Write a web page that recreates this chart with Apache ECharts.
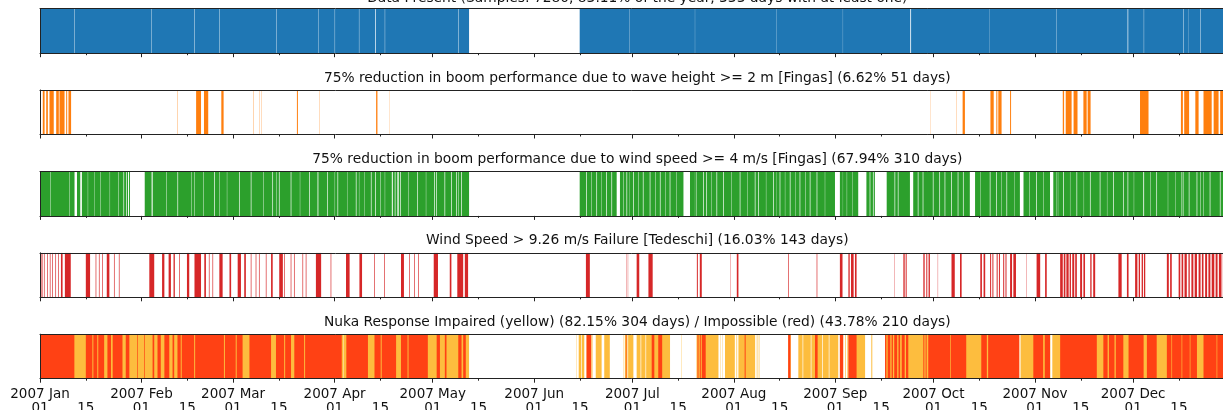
<!DOCTYPE html>
<html>
<head>
<meta charset="utf-8">
<script src="https://cdn.jsdelivr.net/npm/echarts@6/dist/echarts.min.js"></script>
<style>
  html, body { margin: 0; padding: 0; background: #fff; }
  #chart { width: 1223px; height: 410px; }
</style>
</head>
<body>
<div id="chart"></div>
<script>
// All spans are [startDay, endDay] in days since 2007-01-01 00:00 UTC.

const YEAR = 2007;
const monthNames = ['Jan', 'Feb', 'Mar', 'Apr', 'May', 'Jun', 'Jul', 'Aug', 'Sep', 'Oct', 'Nov', 'Dec'];
const dayOfMonthMajor = '01';
const dayOfMonthMinor = '15';

const panelTitles = [
  'Data Present (Samples: 7280, 83.11% of the year, 333 days with at least one)',
  '75% reduction in boom performance due to wave height >= 2 m [Fingas] (6.62% 51 days)',
  '75% reduction in boom performance due to wind speed >= 4 m/s [Fingas] (67.94% 310 days)',
  'Wind Speed > 9.26 m/s Failure [Tedeschi] (16.03% 143 days)',
  'Nuka Response Impaired (yellow) (82.15% 304 days) / Impossible (red) (43.78% 210 days)'
];

// Periods covered by the record, and short dropouts inside them
const dataCoverage = [[0, 131.1], [164.9, 365]];
const missingSamples = [
  [10.55, 10.65], [33.95, 34.05], [47.15, 47.25], [54.85, 54.95], [72.15, 72.25],
  [84.95, 85.05], [90.05, 90.15], [97.45, 97.55], [102.4, 102.6], [105.35, 105.45],
  [127.85, 127.95], [180.0, 180.06], [200.1, 200.16], [224.9, 224.96], [245.3, 245.36],
  [265.9, 266.15], [290.2, 290.26], [310.5, 310.56], [332.3, 332.5], [337.25, 337.35],
  [349.35, 349.45], [351.0, 351.06], [354.55, 354.65]
];

// Wave height >= 2 m
const waveAbove2m = [
  [0.85, 1.4], [1.9, 2.4], [2.9, 4.2], [4.95, 5.75], [5.96, 7.5], [8.0, 8.3], [8.7, 9.5],
  [42.0, 42.1], [47.7, 49.2], [50.1, 51.4], [55.4, 56.1], [65.1, 65.2], [67.1, 67.18],
  [67.6, 67.68], [78.5, 78.8], [85.4, 85.48], [102.7, 103.1], [106.8, 106.86],
  [272.1, 272.16], [279.9, 279.98], [281.9, 282.6], [290.4, 291.4], [292.2, 292.5],
  [292.8, 293.8], [296.4, 296.7], [312.5, 312.9], [313.4, 315.2], [315.8, 317.0],
  [318.8, 319.8], [320.1, 321.0], [336.1, 338.7], [348.6, 349.2], [349.6, 351.1],
  [353.0, 354.0], [355.5, 358.0], [358.6, 360.1], [360.6, 361.6], [362.0, 363.5]
];

// Wind speed below 4 m/s (gaps in the >= 4 m/s band)
const windBelow4 = [
  [3.2, 3.3], [8.9, 9.0], [10.6, 11.3], [12.3, 12.8], [14.6, 14.7], [16.5, 16.6],
  [18.5, 18.6], [21.3, 21.4], [23.9, 24.0], [25.5, 25.7], [26.3, 26.5], [26.9, 27.2],
  [27.5, 32.0],
  [34.3, 34.5], [38.6, 38.7], [42.0, 42.2], [46.3, 46.4], [49.9, 50.0], [53.2, 53.4],
  [57.1, 57.2], [60.8, 61.0], [64.4, 64.6], [68.2, 68.3], [71.0, 71.2], [73.0, 73.2],
  [76.6, 76.8], [79.4, 79.5], [82.2, 82.4], [84.8, 85.0], [87.8, 88.0], [90.9, 91.1],
  [93.8, 93.9], [96.5, 96.7], [99.0, 99.1], [101.1, 101.3], [104.0, 104.1],
  [107.5, 107.8], [108.4, 108.6], [109.2, 109.6], [110.0, 110.2], [112.6, 112.7],
  [115.3, 115.5], [117.9, 118.0], [120.4, 120.6], [121.1, 121.3], [123.6, 123.8],
  [125.6, 125.8], [127.2, 127.4], [128.7, 128.9],
  [166.9, 167.1], [168.5, 168.6], [170.0, 170.2], [171.6, 171.7], [173.0, 173.2],
  [174.6, 174.8], [176.2, 177.2], [178.2, 178.3], [179.2, 179.4], [181.2, 181.4],
  [182.8, 182.9], [184.2, 184.4], [186.3, 186.5], [188.0, 188.1], [189.4, 189.6],
  [191.0, 191.1], [192.4, 192.6], [194.5, 194.6], [196.6, 198.6], [200.5, 200.6],
  [202.6, 202.8], [203.6, 203.8], [205.2, 205.3], [206.7, 206.9], [208.7, 208.9],
  [211.3, 211.4], [213.8, 214.0], [216.2, 216.3], [218.4, 218.6], [219.4, 219.6],
  [221.8, 221.9], [224.0, 224.2], [226.0, 226.2], [227.6, 227.7], [229.1, 229.3],
  [230.7, 230.8], [232.1, 232.3], [233.8, 233.9], [235.2, 235.4], [237.3, 237.5],
  [239.8, 239.9], [242.9, 244.4], [246.5, 246.6], [248.3, 248.4], [250.0, 252.5],
  [253.5, 253.7], [254.5, 254.7], [255.1, 258.7],
  [261.1, 261.3], [262.1, 262.3], [265.8, 266.8], [268.2, 268.4], [269.7, 269.9],
  [272.8, 273.0], [274.8, 275.0], [276.4, 276.6], [278.4, 278.6], [280.4, 280.6],
  [282.0, 282.2], [284.1, 285.7], [287.4, 287.5], [290.2, 290.4], [292.2, 292.4],
  [293.8, 293.9], [295.3, 295.5], [297.6, 297.7], [299.4, 300.5], [302.3, 302.4],
  [304.4, 304.6], [306.5, 306.6], [308.6, 309.6], [311.0, 311.1], [312.6, 312.8],
  [314.7, 314.8], [316.7, 316.9], [318.9, 319.0], [320.8, 321.0], [323.8, 324.0],
  [326.0, 326.1], [327.9, 328.1], [330.9, 331.1], [334.2, 334.3], [337.1, 337.3],
  [339.3, 339.4], [341.1, 341.3], [344.6, 344.7], [346.8, 346.9], [348.8, 349.0],
  [351.2, 351.3], [353.4, 353.6], [355.4, 355.5], [357.4, 357.6], [360.5, 360.7],
  [362.7, 362.8]
];

// Wind speed > 9.26 m/s
const windAbove926 = [
  [0.46, 0.76], [1.2, 1.4], [2.2, 2.4], [3.0, 3.2], [3.7, 3.9], [4.7, 4.9], [5.5, 5.7],
  [6.4, 6.9], [7.6, 9.4], [14.0, 15.3], [17.0, 17.2], [18.0, 18.2], [19.0, 19.2],
  [20.4, 21.2], [22.6, 22.8], [24.1, 24.3], [33.4, 34.9], [37.3, 38.0], [39.3, 40.0],
  [40.8, 41.2], [42.5, 42.7], [44.9, 45.6], [47.2, 49.2], [50.2, 50.7], [51.6, 51.8],
  [52.7, 52.9], [54.8, 55.8], [57.9, 58.4], [60.4, 61.4], [62.4, 62.9], [64.4, 64.6],
  [65.9, 66.1], [66.9, 67.1], [69.0, 69.2], [70.6, 71.1], [73.1, 74.2], [74.6, 74.8],
  [76.6, 76.8], [77.6, 77.8], [80.2, 80.4], [81.2, 81.4], [84.3, 85.9], [88.8, 89.0],
  [93.5, 94.6], [97.6, 98.4], [102.1, 102.3], [105.2, 105.4], [110.3, 111.2],
  [112.8, 113.0], [114.3, 114.5], [115.6, 115.8], [120.3, 121.6], [125.2, 125.7],
  [127.5, 129.3], [129.8, 130.8],
  [166.8, 168.0], [179.2, 179.3], [179.6, 179.7], [182.3, 183.1], [185.9, 187.2],
  [200.7, 201.0], [201.6, 202.2], [210.9, 211.0], [212.9, 213.4], [228.6, 228.8],
  [237.3, 237.5],
  [244.4, 245.2], [247.0, 247.4], [247.8, 248.6], [249.0, 249.5], [261.1, 261.2],
  [263.8, 264.2], [264.5, 264.8], [269.9, 270.3], [270.8, 271.1], [271.5, 271.9],
  [274.3, 274.4], [278.5, 279.5], [281.1, 281.6], [287.3, 287.8], [288.3, 288.8],
  [290.3, 290.6], [291.0, 291.3], [292.3, 292.6], [293.0, 293.3], [294.3, 294.6],
  [295.0, 295.3], [296.4, 297.0], [297.4, 298.2], [301.4, 301.5], [304.5, 305.6],
  [307.1, 307.6], [311.7, 312.5], [312.8, 313.3], [313.6, 314.3], [314.6, 315.0],
  [315.4, 316.0], [316.3, 316.8], [317.8, 318.4], [318.8, 319.3], [320.9, 321.3],
  [321.8, 322.4], [329.5, 330.5], [332.1, 332.6], [334.6, 335.3], [335.7, 336.1],
  [336.6, 337.0], [337.3, 337.7], [344.3, 344.9], [345.3, 345.8], [347.9, 348.4],
  [348.8, 349.3], [349.7, 350.4], [350.9, 351.3], [351.8, 352.4], [352.8, 353.5],
  [354.0, 354.6], [355.0, 355.5], [356.0, 356.6], [357.0, 357.6], [358.0, 358.8],
  [359.2, 359.8], [360.2, 361.0], [361.4, 362.0], [362.5, 363.2], [363.6, 364.3]
];

// Nuka response impaired
const nukaImpaired = [
  [0, 92.75], [92.85, 131.1],
  [163.9, 164.0], [164.6, 165.3], [165.5, 166.3], [167.0, 168.4], [168.5, 168.8],
  [169.8, 171.6], [172.4, 174.1], [178.3, 178.4], [178.7, 179.5], [179.7, 181.3],
  [182.3, 183.5], [183.7, 185.0], [185.2, 192.5], [195.9, 196.0], [200.6, 207.3],
  [207.8, 207.9], [208.4, 208.5], [209.3, 212.3], [212.8, 213.0], [213.4, 218.5],
  [219.0, 219.2], [219.6, 219.8], [228.6, 229.4], [231.7, 233.0], [233.2, 235.5],
  [235.7, 239.0], [239.2, 241.0], [241.2, 243.9], [244.4, 245.4], [246.0, 246.2],
  [246.6, 246.8], [247.0, 252.1], [254.0, 254.3], [258.2, 299.2], [299.6, 308.7],
  [309.3, 365]
];

// Nuka response impossible
const nukaImpossible = [
  [0, 10.5], [14.0, 16.0], [16.3, 17.5], [17.8, 19.6], [20.6, 21.7], [22.2, 25.2],
  [26.2, 27.3], [29.7, 29.9], [31.8, 32.0], [34.4, 34.9], [35.9, 36.9], [38.0, 39.5],
  [40.5, 41.0], [42.0, 43.0], [43.3, 47.1], [47.4, 56.2], [56.5, 59.8], [60.1, 61.9],
  [64.0, 70.6], [72.1, 74.6], [74.9, 76.7], [77.7, 80.7], [81.0, 92.2], [93.6, 100.2],
  [102.2, 104.1], [104.4, 108.8], [110.3, 112.3], [112.6, 118.5], [121.2, 122.2],
  [123.7, 124.2], [127.8, 128.8], [129.3, 130.1],
  [167.0, 168.4], [179.0, 179.2], [186.9, 187.7], [188.9, 190.1], [200.9, 201.2],
  [201.6, 201.9], [202.2, 203.4], [215.3, 215.6], [228.6, 229.3], [236.8, 237.6],
  [244.4, 245.4], [247.0, 249.5], [258.2, 258.6], [259.0, 259.8], [260.2, 260.6],
  [261.0, 261.9], [262.3, 262.8], [263.3, 264.2], [264.6, 265.3],
  [269.9, 270.2], [270.6, 270.9], [271.4, 278.1], [278.3, 283.0], [287.6, 289.3],
  [289.7, 299.2], [303.5, 306.5],
  [307.0, 308.6], [311.7, 322.9], [324.9, 326.2], [326.6, 328.3], [328.7, 331.0],
  [332.6, 337.2], [338.2, 341.2], [344.3, 345.7], [345.9, 348.8], [349.0, 351.3],
  [351.5, 353.5], [355.5, 359.5], [359.7, 365]
];

// ---------------------------------------------------------------------------

const DAY_MS = 86400000;
const T0 = Date.UTC(YEAR, 0, 1);
const T1 = Date.UTC(YEAR + 1, 0, 1);
const toTime = d => T0 + d * DAY_MS;

// Remove the hole spans from a list of spans
function subtract(spans, holes) {
  let pieces = spans.map(s => s.slice());
  holes.forEach(([h0, h1]) => {
    const next = [];
    pieces.forEach(([p0, p1]) => {
      if (h1 <= p0 || h0 >= p1) { next.push([p0, p1]); return; }
      if (h0 > p0) next.push([p0, h0]);
      if (h1 < p1) next.push([h1, p1]);
    });
    pieces = next;
  });
  return pieces;
}

const dataPresent = subtract(dataCoverage, missingSamples);
const windAbove4 = subtract(dataPresent, windBelow4);

const monthStarts = monthNames.map((_, m) => Date.UTC(YEAR, m, 1));
const midMonths = monthNames.map((_, m) => Date.UTC(YEAR, m, 15));

const panels = [
  { layers: [{ spans: dataPresent, color: '#1f77b4' }] },
  { layers: [{ spans: waveAbove2m, color: '#ff7f0e' }] },
  { layers: [{ spans: windAbove4, color: '#2ca02c' }] },
  { layers: [{ spans: windAbove926, color: '#d62728' }] },
  { layers: [{ spans: nukaImpaired, color: '#fdbd3e' }, { spans: nukaImpossible, color: '#ff4114' }] }
];

const FONT = '"DejaVu Sans", Verdana, sans-serif';
const GRID_LEFT = 40;
const GRID_WIDTH = 1194.6;
const GRID_HEIGHT = 44.5;
const GRID_TOPS = [8.7, 90, 171.4, 252.8, 334.2];
const TITLE_OFFSETS = [-18, -20, -20, -20, -20];
const FRAME = '#222';

const grids = [], xAxes = [], yAxes = [], series = [], titles = [];

const tickLabelStyle = {
  margin: 9, hideOverlap: false,
  fontFamily: FONT, fontSize: 13.5, lineHeight: 14, color: '#111', align: 'center', verticalAlign: 'top'
};

panels.forEach((panel, i) => {
  const isLast = i === panels.length - 1;
  grids.push({
    left: GRID_LEFT, top: GRID_TOPS[i], width: GRID_WIDTH, height: GRID_HEIGHT,
    containLabel: false, outerBoundsMode: 'none', show: false
  });
  titles.push({
    text: panelTitles[i],
    left: GRID_LEFT + GRID_WIDTH / 2,
    top: GRID_TOPS[i] + TITLE_OFFSETS[i],
    textAlign: 'center',
    padding: 0,
    textStyle: { fontFamily: FONT, fontSize: 13.8, fontWeight: 'normal', color: '#111', lineHeight: 16 }
  });
  // time is carried as epoch milliseconds on a linear axis
  const base = { gridIndex: i, type: 'value', min: T0, max: T1, scale: true, splitLine: { show: false }, z: 5 };
  // month-start ticks and labels
  xAxes.push(Object.assign({}, base, {
    position: 'bottom',
    axisLine: { show: true, onZero: false, lineStyle: { color: FRAME, width: 1 } },
    axisTick: { show: true, customValues: monthStarts, length: 4, lineStyle: { color: FRAME, width: 1 } },
    axisLabel: Object.assign({}, tickLabelStyle, {
      show: isLast, customValues: monthStarts,
      formatter: v => YEAR + ' ' + monthNames[new Date(v).getUTCMonth()] + '\n' + dayOfMonthMajor
    })
  }));
  // mid-month ticks and labels
  xAxes.push(Object.assign({}, base, {
    position: 'bottom',
    axisLine: { show: false, onZero: false },
    axisTick: { show: true, customValues: midMonths, length: 2, lineStyle: { color: FRAME, width: 1 } },
    axisLabel: Object.assign({}, tickLabelStyle, {
      show: isLast, customValues: midMonths,
      formatter: () => '\n' + dayOfMonthMinor
    })
  }));
  // top frame line
  xAxes.push(Object.assign({}, base, {
    position: 'top',
    axisLine: { show: true, onZero: false, lineStyle: { color: FRAME, width: 1 } },
    axisTick: { show: false }, axisLabel: { show: false }
  }));
  yAxes.push({
    gridIndex: i, type: 'value', min: 0, max: 1, z: 5,
    axisLine: { show: true, onZero: false, lineStyle: { color: FRAME, width: 1 } },
    axisTick: { show: false }, axisLabel: { show: false }, splitLine: { show: false }
  });
  panel.layers.forEach(layer => {
    series.push({
      type: 'custom',
      xAxisIndex: i * 3,
      yAxisIndex: i,
      clip: true,
      silent: true,
      animation: false,
      encode: { x: [0, 1] },
      data: layer.spans.map(([a, b]) => [toTime(a), toTime(b)]),
      renderItem: (params, api) => {
        const p0 = api.coord([api.value(0), 1]);
        const p1 = api.coord([api.value(1), 0]);
        return {
          type: 'rect',
          shape: { x: p0[0], y: p0[1], width: Math.max(p1[0] - p0[0], 0.05), height: p1[1] - p0[1] },
          style: { fill: layer.color }
        };
      }
    });
  });
});

const chart = echarts.init(document.getElementById('chart'), null, { renderer: 'canvas' });
chart.setOption({
  animation: false,
  backgroundColor: '#fff',
  title: titles,
  grid: grids,
  xAxis: xAxes,
  yAxis: yAxes,
  series: series
});
</script>
</body>
</html>
